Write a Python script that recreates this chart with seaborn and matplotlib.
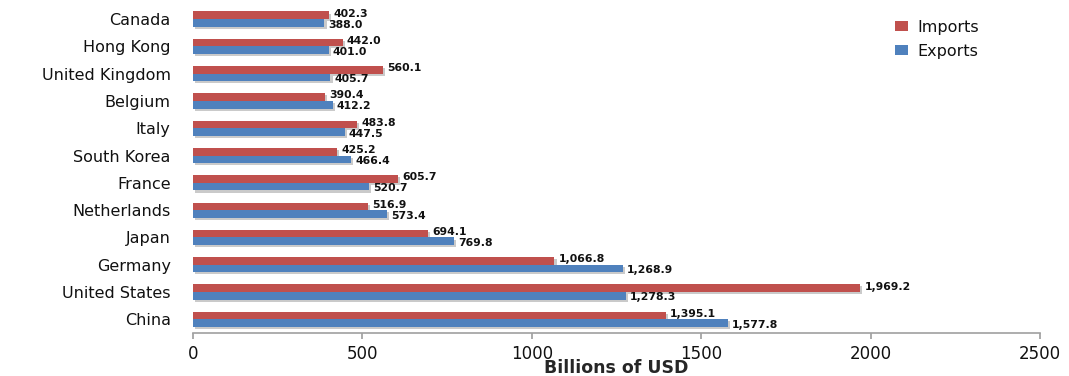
import matplotlib
matplotlib.use("Agg")
import matplotlib.pyplot as plt
import matplotlib.patheffects as pe
import seaborn as sns
import pandas as pd

countries = ["Canada", "Hong Kong", "United Kingdom", "Belgium", "Italy",
             "South Korea", "France", "Netherlands", "Japan", "Germany",
             "United States", "China"]
imports = [402.3, 442.0, 560.1, 390.4, 483.8, 425.2, 605.7, 516.9, 694.1,
           1066.8, 1969.2, 1395.1]
exports = [388.0, 401.0, 405.7, 412.2, 447.5, 466.4, 520.7, 573.4, 769.8,
           1268.9, 1278.3, 1577.8]
x_ticks = [0, 500, 1000, 1500, 2000, 2500]

df = pd.DataFrame({
    "country": countries * 2,
    "value": imports + exports,
    "flow": ["Imports"] * len(countries) + ["Exports"] * len(countries),
})

sns.set_theme(style="white")
plt.rcParams["font.family"] = ["DejaVu Sans"]
plt.rcParams["text.color"] = "#111111"
plt.rcParams["xtick.color"] = "#111111"
plt.rcParams["ytick.color"] = "#111111"

fig = plt.figure(figsize=(10.69, 3.76), dpi=100)
ax = fig.add_axes([0.1805, 0.1144, 0.7924, 0.8712])

palette = {"Imports": "#C0504D", "Exports": "#4F81BD"}
sns.barplot(data=df, x="value", y="country", hue="flow", order=countries,
            hue_order=["Imports", "Exports"], palette=palette, orient="h",
            width=0.56, saturation=1, linewidth=0, ax=ax, errorbar=None)

shadow = [pe.SimplePatchShadow(offset=(1.5, -1.5), shadow_rgbFace="#8a8a8a", alpha=0.45),
          pe.Normal()]
for patch in ax.patches:
    patch.set_path_effects(shadow)

# value labels: imports sit a touch high, exports a touch low
for container, dy in zip(ax.containers, (-0.06, 0.06)):
    labels = [f"{v:,.1f}" for v in container.datavalues]
    texts = ax.bar_label(container, labels=labels, padding=3, fontsize=7.8,
                         fontweight="bold", color="#111111")
    for t in texts:
        x, y = t.xy
        t.xy = (x, y + dy)

ax.set_xlim(0, 2500)
ax.set_ylim(11.5, -0.5)
ax.set_xticks(x_ticks)
ax.set_xticklabels([str(t) for t in x_ticks], fontsize=12)
ax.tick_params(axis="x", length=4, color="#a0a0a0", bottom=True, pad=5)
ax.tick_params(axis="y", length=0, labelsize=11.5, pad=16)
ax.set_ylabel("")
ax.set_xlabel("Billions of USD", fontsize=12.5, fontweight="bold", labelpad=-3)

for side in ["top", "right", "left"]:
    ax.spines[side].set_visible(False)
ax.spines["bottom"].set_color("#a0a0a0")
ax.spines["bottom"].set_linewidth(1.2)

leg = ax.legend(loc="upper left", bbox_to_anchor=(0.812, 1.0), frameon=False,
                fontsize=11.5, handlelength=0.8, handleheight=0.6,
                labelspacing=0.55, handletextpad=0.6)
for h in leg.legend_handles:
    h.set_path_effects([])

fig.savefig("out.png", dpi=100)
